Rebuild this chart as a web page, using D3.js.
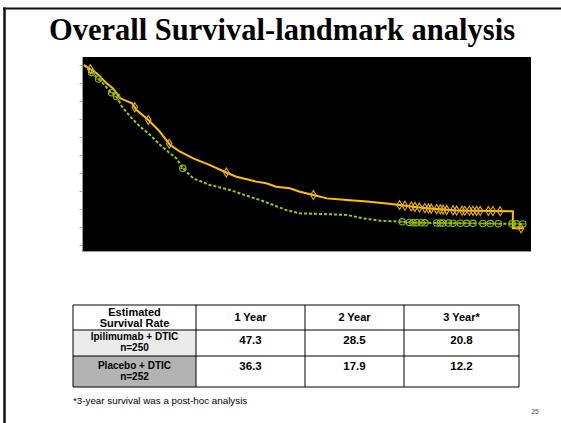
<!DOCTYPE html>
<html>
<head>
<meta charset="utf-8">
<script src="https://cdn.jsdelivr.net/npm/d3@7/dist/d3.min.js"></script>
<style>
  html, body { margin: 0; padding: 0; background: #fff; }
  svg { display: block; }
</style>
</head>
<body>
<svg id="slide" width="561" height="423"></svg>
<script>
// Kaplan-Meier estimates (months, survival probability)
const ipiTimes = [0, 1.4, 2.5, 3.2, 4.0, 5.3, 5.8, 7.1, 8.2, 9.5, 10.6, 12.05, 13.9, 15.5, 16.8, 18.3,
  19.0, 20.1, 21.2, 22.7, 23.8, 25.3, 26.8, 29.0, 31.2, 33.4, 34.8, 36.3, 37.8, 39.3, 41.1, 47.3, 47.3, 48.4];
const ipiSurv = [1.0, 0.954, 0.898, 0.87, 0.815, 0.787, 0.75, 0.694, 0.639, 0.556, 0.518, 0.481, 0.444, 0.407, 0.379, 0.361,
  0.352, 0.343, 0.324, 0.315, 0.296, 0.278, 0.259, 0.25, 0.241, 0.231, 0.222, 0.213, 0.204, 0.198, 0.191, 0.187, 0.093, 0.093];
const pboTimes = [0, 2.1, 2.9, 3.6, 4.2, 5.1, 6.2, 7.3, 8.4, 9.5, 10.2, 10.9, 12.05, 13.9, 16.1, 18.3,
  19.4, 20.9, 22.3, 23.8, 26.4, 29.0, 30.8, 32.6, 34.8, 36.3, 48.4];
const pboSurv = [1.0, 0.898, 0.852, 0.824, 0.768, 0.713, 0.657, 0.611, 0.556, 0.509, 0.481, 0.426, 0.37, 0.333, 0.306, 0.268,
  0.25, 0.222, 0.194, 0.176, 0.172, 0.167, 0.148, 0.135, 0.13, 0.124, 0.117];

// Censoring times (months)
const ipiCensored = [0.7, 5.6, 7.1, 9.4, 15.7, 25.3, 34.8, 35.4, 36.1, 36.5, 37.0, 37.6, 38.0, 38.3, 38.9, 39.3,
  39.6, 40.0, 40.7, 41.1, 41.7, 42.0, 42.5, 42.9, 43.3, 43.7, 44.6, 45.1, 45.9, 48.2];
const pboCensored = [0.85, 1.6, 3.05, 3.6, 10.9, 35.1, 35.9, 36.3, 36.7, 37.2, 37.6, 38.9, 39.3, 39.6, 40.2,
  40.7, 41.5, 42.2, 42.9, 44.0, 44.8, 45.7, 47.2, 47.7, 48.4];

const yTicks = [0, 0.1, 0.2, 0.3, 0.4, 0.5, 0.6, 0.7, 0.8, 0.9, 1.0];

// Landmark table
const tableHeader = ["Estimated\nSurvival Rate", "1 Year", "2 Year", "3 Year*"];
const armLabels = ["Ipilimumab + DTIC\nn=250", "Placebo + DTIC\nn=252"];
const ipiRates = [47.3, 28.5, 20.8];
const pboRates = [36.3, 17.9, 12.2];

const titleText = "Overall Survival-landmark analysis";
const footnote = "*3-year survival was a post-hoc analysis";
const pageNumber = "25";

const svg = d3.select("#slide");

// slide frame
svg.append("line").attr("x1", 3).attr("x2", 561).attr("y1", 8.5).attr("y2", 8.5)
  .attr("stroke", "#111").attr("stroke-width", 2);
svg.append("line").attr("x1", 4.5).attr("x2", 4.5).attr("y1", 7.5).attr("y2", 423)
  .attr("stroke", "#111").attr("stroke-width", 2.5);

// title
svg.append("text").attr("x", 282).attr("y", 40)
  .attr("text-anchor", "middle")
  .attr("font-family", "'Liberation Serif', 'Times New Roman', serif")
  .attr("font-weight", "bold").attr("font-size", 30.5)
  .attr("fill", "#000").text(titleText);

// plot panel
const panel = { x0: 83, x1: 531, y0: 57, y1: 251 };
svg.append("rect").attr("x", panel.x0).attr("y", panel.y0)
  .attr("width", panel.x1 - panel.x0).attr("height", panel.y1 - panel.y0)
  .attr("fill", "#000");

const x = d3.scaleLinear().domain([0, 49.3]).range([84, 531]);
const y = d3.scaleLinear().domain([0, 1]).range([245, 65]);

// axes
const yAxis = d3.axisLeft(y).tickValues(yTicks).tickSize(3).tickFormat("");
const gy = svg.append("g").attr("transform", `translate(${panel.x0 - 0.5},0)`).call(yAxis);
gy.select(".domain").attr("stroke", "#999").attr("d", `M0,${panel.y0}V${panel.y1 + 1}`);
gy.selectAll(".tick line").attr("stroke", "#aaa");
const xAxis = d3.axisBottom(x).tickValues([]).tickSizeOuter(0);
const gx = svg.append("g").attr("transform", `translate(0,${panel.y1 + 0.5})`).call(xAxis);
gx.select(".domain").attr("stroke", "#999").attr("d", `M${panel.x0 - 1},0H${panel.x1}`);

const survLine = d3.line().x(d => x(d[0])).y(d => y(d[1]));

const ipiColor = "#FFC000";
const pboColor = "#99CC00";

const ipiData = ipiTimes.map((t, i) => [t, ipiSurv[i]]);
const pboData = pboTimes.map((t, i) => [t, pboSurv[i]]);

// survival value along the drawn curve at time t
function survAt(times, surv, t) {
  const i = d3.bisectRight(times, t) - 1;
  if (i < 0) return surv[0];
  if (i >= times.length - 1) return surv[times.length - 1];
  const t0 = times[i], t1 = times[i + 1];
  if (t1 === t0) return surv[i + 1];
  return surv[i] + (surv[i + 1] - surv[i]) * (t - t0) / (t1 - t0);
}

svg.append("path").datum(pboData).attr("d", survLine)
  .attr("fill", "none").attr("stroke", pboColor).attr("stroke-width", 2)
  .attr("stroke-dasharray", "3,2");
svg.append("path").datum(ipiData).attr("d", survLine)
  .attr("fill", "none").attr("stroke", ipiColor).attr("stroke-width", 2);

// censor marks: circles for placebo, diamonds for ipilimumab
svg.append("g").selectAll("g").data(pboCensored).join("g")
  .attr("transform", t => `translate(${x(t)},${y(survAt(pboTimes, pboSurv, t))})`)
  .each(function () {
    const g = d3.select(this);
    g.append("circle").attr("r", 3.2).attr("fill", "none")
      .attr("stroke", "#8DB800").attr("stroke-width", 1.1);
    g.append("line").attr("x1", -3.2).attr("x2", 3.2)
      .attr("stroke", "#8DB800").attr("stroke-width", 1);
  });
svg.append("g").selectAll("path").data(ipiCensored).join("path")
  .attr("transform", t => `translate(${x(t)},${y(survAt(ipiTimes, ipiSurv, t))})`)
  .attr("d", "M0,-4.5L2.7,0L0,4.5L-2.7,0Z")
  .attr("fill", "none").attr("stroke", "#E8B000").attr("stroke-width", 1.1);

// table
const tbl = { cols: [73, 196, 305, 404, 519], rows: [305, 330, 356, 387] };
const rowFills = ["#fff", "#EBEBEB", "#B3B3B3"];
const gt = svg.append("g").attr("font-family", "'Liberation Sans', Arial, sans-serif")
  .attr("font-weight", "bold").attr("fill", "#000");

// label cell backgrounds
[0, 1, 2].forEach(r => {
  gt.append("rect").attr("x", tbl.cols[0]).attr("y", tbl.rows[r])
    .attr("width", tbl.cols[1] - tbl.cols[0]).attr("height", tbl.rows[r + 1] - tbl.rows[r])
    .attr("fill", rowFills[r]);
});

function multiline(g, text, cx, cy, size, lh) {
  const lines = text.split("\n");
  const t = g.append("text").attr("text-anchor", "middle").attr("font-size", size);
  lines.forEach((l, i) => {
    t.append("tspan").attr("x", cx)
      .attr("y", cy + (i - (lines.length - 1) / 2) * lh + size * 0.36).text(l);
  });
}

const colCenter = c => (tbl.cols[c] + tbl.cols[c + 1]) / 2;
const rowCenter = r => (tbl.rows[r] + tbl.rows[r + 1]) / 2;

tableHeader.forEach((h, c) => {
  multiline(gt, h, colCenter(c), rowCenter(0), 11, 10.5);
});
armLabels.forEach((lab, r) => {
  multiline(gt, lab, colCenter(0), rowCenter(r + 1) - 1, 10, 11);
});
[ipiRates, pboRates].forEach((vals, r) => {
  vals.forEach((v, c) => {
    gt.append("text").attr("x", colCenter(c + 1)).attr("y", tbl.rows[r + 1] + 14)
      .attr("text-anchor", "middle").attr("font-size", 11.5).text(v.toFixed(1));
  });
});

// grid lines
tbl.rows.forEach(yy => {
  svg.append("line").attr("x1", tbl.cols[0]).attr("x2", tbl.cols[4])
    .attr("y1", yy).attr("y2", yy).attr("stroke", "#000").attr("stroke-width", 1);
});
tbl.cols.forEach(xx => {
  svg.append("line").attr("x1", xx).attr("x2", xx)
    .attr("y1", tbl.rows[0]).attr("y2", tbl.rows[3]).attr("stroke", "#000").attr("stroke-width", 1);
});

// footnote and page number
svg.append("text").attr("x", 73).attr("y", 404)
  .attr("font-family", "'Liberation Sans', Arial, sans-serif").attr("font-size", 9.8)
  .attr("fill", "#000").text(footnote);
svg.append("text").attr("x", 539).attr("y", 414).attr("text-anchor", "end")
  .attr("font-family", "'Liberation Sans', Arial, sans-serif").attr("font-size", 7)
  .attr("fill", "#555").text(pageNumber);
</script>
</body>
</html>
